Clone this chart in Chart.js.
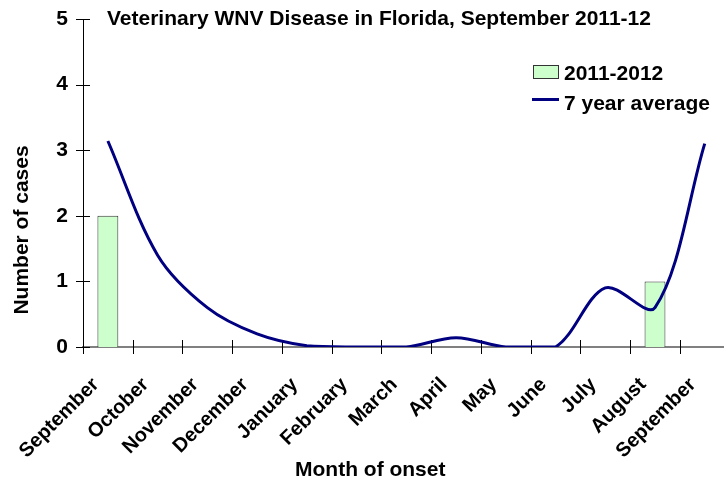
<!DOCTYPE html>
<html><head><meta charset="utf-8">
<script src="https://cdn.jsdelivr.net/npm/chart.js@4.4.0/dist/chart.umd.min.js"></script>
<style>
html,body{margin:0;padding:0;overflow:hidden;background:#fff;width:724px;height:482px}
#wrap{position:absolute;left:0;top:0;width:740px;height:482px}
</style></head>
<body><div id="wrap"><canvas id="c" width="740" height="482"></canvas></div>
<script>
const categories = ['September','October','November','December','January','February','March','April','May','June','July','August','September'];
const cases20112012 = [2,null,null,null,null,null,null,null,null,null,null,1,null];
const sevenYearAverage = [3.14,1.4,0.6,0.2,0.02,0,0,0.14,0,0,0.9,0.6,3.1];
const yTicks = [0,1,2,3,4,5];
const titleText = 'Veterinary WNV Disease in Florida, September 2011-12';
const xTitle = 'Month of onset';
const yTitle = 'Number of cases';
const seriesNames = ['2011-2012','7 year average'];

const FONT = 'Arial, "Liberation Sans", sans-serif';
Chart.defaults.font.family = FONT;
Chart.defaults.color = '#000';

const decor = {
  id: 'decor',
  beforeDatasetsDraw(chart) {
    const ctx = chart.ctx, xs = chart.scales.x, ys = chart.scales.y, a = chart.chartArea;
    ctx.save();
    ctx.strokeStyle = '#000';
    ctx.lineWidth = 1;
    const w = xs.getPixelForValue(1) - xs.getPixelForValue(0);
    ctx.beginPath();
    for (let i = 0; i <= categories.length; i++) {
      const px = Math.round(xs.getPixelForValue(i) - w / 2) + 0.5;
      ctx.moveTo(px, a.bottom - 7);
      ctx.lineTo(px, a.bottom + 7);
    }
    yTicks.forEach(v => {
      const py = Math.round(ys.getPixelForValue(v)) + 0.5;
      ctx.moveTo(a.left - 7, py);
      ctx.lineTo(a.left + 7, py);
    });
    ctx.stroke();
    ctx.restore();
  },
  afterDraw(chart) {
    const ctx = chart.ctx;
    ctx.save();
    ctx.fillStyle = '#000';
    ctx.font = 'bold 21px ' + FONT;
    ctx.textBaseline = 'alphabetic';
    ctx.textAlign = 'left';
    ctx.fillText(titleText, 107, 25);
    // legend
    const ds = chart.data.datasets;
    ctx.fillStyle = ds[0].backgroundColor;
    ctx.fillRect(533, 65, 26, 14);
    ctx.strokeStyle = ds[0].borderColor;
    ctx.lineWidth = 1;
    ctx.strokeRect(533.5, 65.5, 25, 13);
    ctx.strokeStyle = ds[1].borderColor;
    ctx.lineWidth = 3;
    ctx.beginPath();
    ctx.moveTo(532, 99.5);
    ctx.lineTo(559, 99.5);
    ctx.stroke();
    ctx.fillStyle = '#000';
    ctx.fillText(seriesNames[0], 564, 80);
    ctx.fillText(seriesNames[1], 564, 110);
    // x title
    ctx.fillText(xTitle, 295, 476);
    // y title
    ctx.translate(28, 230);
    ctx.rotate(-Math.PI / 2);
    ctx.textAlign = 'center';
    ctx.fillText(yTitle, 0, 0);
    ctx.restore();
  }
};

new Chart(document.getElementById('c'), {
  type: 'bar',
  data: {
    labels: categories,
    datasets: [
      {
        type: 'bar',
        label: seriesNames[0],
        data: cases20112012,
        backgroundColor: '#CCFFCC',
        borderColor: '#333333',
        borderWidth: 1,
        barPercentage: 0.42,
        categoryPercentage: 1,
        order: 2
      },
      {
        type: 'line',
        label: seriesNames[1],
        data: sevenYearAverage,
        borderColor: '#000080',
        borderWidth: 3,
        pointRadius: 0,
        tension: 0.33,
        fill: false,
        order: 1
      }
    ]
  },
  options: {
    responsive: false,
    animation: false,
    events: [],
    layout: { padding: { top: 19, right: 10.4, left: 0, bottom: 0 } },
    plugins: { legend: { display: false }, tooltip: { enabled: false }, title: { display: false } },
    scales: {
      x: {
        type: 'category',
        offset: true,
        grid: { display: false },
        border: { display: true, color: '#808080', width: 2 },
        ticks: { autoSkip: false, maxRotation: 45, minRotation: 45, padding: 18, labelOffset: -12,
                 font: { size: 20, weight: 'bold' }, color: '#000' },
        afterFit(s) { s.height = 135; s.paddingLeft = 0; s.paddingRight = 0; }
      },
      y: {
        min: 0, max: 5,
        grid: { display: false },
        border: { display: true, color: '#000', width: 1 },
        ticks: { padding: 7, font: { size: 21, weight: 'bold' }, color: '#000' },
        afterBuildTicks(s) { s.ticks = yTicks.map(v => ({ value: v })); },
        afterFit(s) { s.width = 83; s.paddingTop = 0; s.paddingBottom = 0; }
      }
    }
  },
  plugins: [decor]
});
</script>
</body></html>
